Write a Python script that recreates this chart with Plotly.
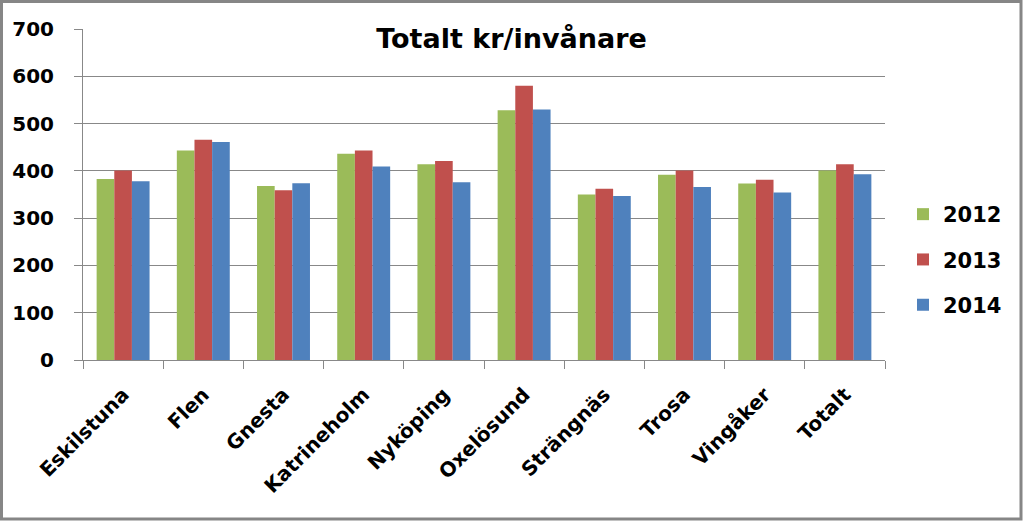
import plotly.graph_objects as go

categories = ["Eskilstuna", "Flen", "Gnesta", "Katrineholm", "Nyköping",
              "Oxelösund", "Strängnäs", "Trosa", "Vingåker", "Totalt"]
v2012 = [383, 443, 368, 436, 414, 528, 350, 392, 373, 401]
v2013 = [401, 466, 359, 443, 421, 580, 362, 401, 381, 414]
v2014 = [378, 461, 374, 409, 376, 530, 347, 366, 354, 393]
years = ["2012", "2013", "2014"]
colors = ["#9BBB59", "#C0504D", "#4F81BD"]

W, H = 1023, 521
L, R, T, B = 83, 138, 29, 161
FONT = "DejaVu Sans"
GRID = "#888888"

fig = go.Figure()
for name, vals, col in zip(years, [v2012, v2013, v2014], colors):
    fig.add_trace(go.Bar(x=categories, y=vals, name="<b>" + name + "</b>",
                         marker_color=col, marker_line_width=0, legendgroup=name))

pw = W - L - R
ph = H - T - B
fig.update_layout(
    width=W, height=H,
    margin=dict(l=L, r=R, t=T, b=B, autoexpand=False),
    paper_bgcolor="white", plot_bgcolor="white",
    barmode="group", bargap=0.34, bargroupgap=0,
    font=dict(family=FONT, size=20, color="black"),
    title=dict(text="<b>Totalt kr/invånare</b>", x=0.5, xref="container",
               xanchor="center", y=1 - 39 / H, yref="container", yanchor="middle",
               font=dict(family=FONT, size=27, color="black")),
    legend=dict(x=(903 - L) / pw, y=(H - 194 - B) / ph, xanchor="left", yanchor="top",
                font=dict(family=FONT, size=21, color="black"),
                tracegroupgap=15, itemwidth=30, bgcolor="rgba(0,0,0,0)"),
    showlegend=True,
)
fig.update_yaxes(range=[0, 700], dtick=100, showgrid=True, gridcolor=GRID,
                 gridwidth=1, showline=True, linecolor=GRID, linewidth=1,
                 ticks="outside", ticklen=8, tickcolor=GRID,
                 tickfont=dict(family=FONT, size=20, color="black"),
                 tickprefix="<b>", ticksuffix="</b>", ticklabelstandoff=16,
                 zeroline=False, fixedrange=True, automargin=False)
fig.update_xaxes(showline=True, linecolor=GRID, linewidth=1,
                 ticks="outside", ticklen=8, tickcolor=GRID,
                 tickson="boundaries", tickangle=-45,
                 tickfont=dict(family=FONT, size=20, color="black"),
                 tickprefix="<b>", ticksuffix="</b>", ticklabelstandoff=14,
                 fixedrange=True, automargin=False)

# outer border of the chart
fig.add_shape(type="rect", xref="paper", yref="paper",
              x0=(1.5 - L) / pw, x1=(W - 2 - L) / pw,
              y0=(-B + 2) / ph, y1=(H - B - 1.5) / ph,
              line=dict(color="#868686", width=3), fillcolor="rgba(0,0,0,0)",
              layer="below")

fig.write_html("out.html", config={"displayModeBar": False},
               post_script="document.body.style.margin='0';document.body.style.overflow='hidden';")
